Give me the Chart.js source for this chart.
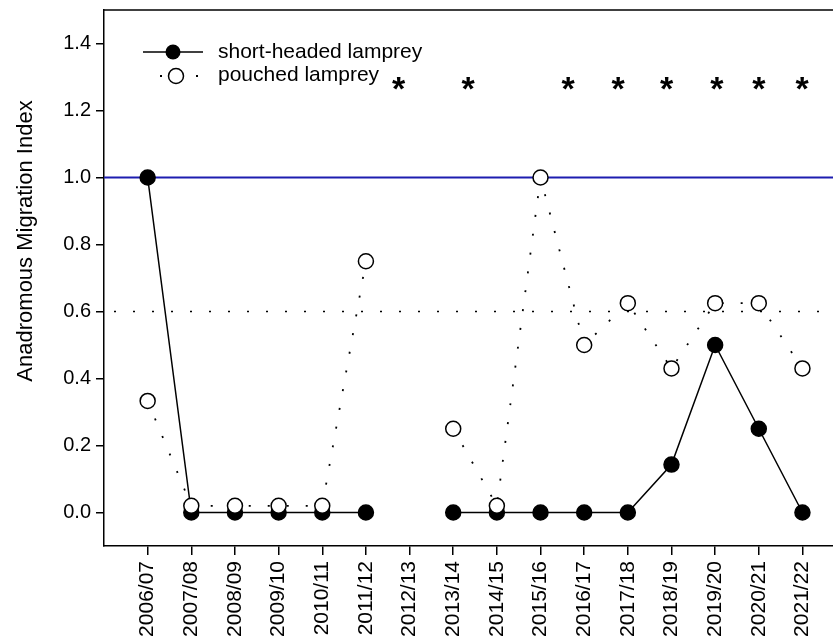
<!DOCTYPE html>
<html>
<head>
<meta charset="utf-8">
<script src="https://cdn.jsdelivr.net/npm/chart.js@4"></script>
<style>
  body { margin: 0; background: #fff; }
  #wrap { width: 833px; height: 638px; }
</style>
</head>
<body>
<div id="wrap"><canvas id="migration_chart" width="833" height="638"></canvas></div>
<script>
// season labels along the x axis
const seasons = ['2006/07', '2007/08', '2008/09', '2009/10', '2010/11', '2011/12', '2012/13', '2013/14',
                 '2014/15', '2015/16', '2016/17', '2017/18', '2018/19', '2019/20', '2020/21', '2021/22'];
// index values (null = no data that season)
const shortHeaded = [1.0, 0, 0, 0, 0, 0, null, 0, 0, 0, 0, 0, 0.143, 0.5, 0.25, 0];
const pouched = [0.333, 0.02, 0.02, 0.02, 0.02, 0.75, null, 0.25, 0.02, 1.0, 0.5, 0.625, 0.43, 0.625, 0.625, 0.43];
// asterisk markers (x in season index units) and their height
const starX = [5.75, 7.34, 9.63, 10.78, 11.89, 13.04, 14.0, 14.99];
const starY = 1.28;
// reference lines
const refSolid = 1.0;
const refDotted = 0.6;
const yTicks = [0, 0.2, 0.4, 0.6, 0.8, 1.0, 1.2, 1.4];

const FONT = 'Arial, "Liberation Sans", sans-serif';

function toPoints(arr) {
    return arr.map((v, i) => ({ x: i, y: v }));
}

// reference lines, frame, asterisks, legend and axis title
const extras = {
    id: 'extras',
    beforeDatasetsDraw(chart) {
        const ctx = chart.ctx, a = chart.chartArea, y = chart.scales.y;
        ctx.save();
        // blue line at 1.0
        ctx.strokeStyle = '#1d1db0';
        ctx.lineWidth = 2;
        ctx.beginPath();
        ctx.moveTo(a.left, y.getPixelForValue(refSolid));
        ctx.lineTo(a.right, y.getPixelForValue(refSolid));
        ctx.stroke();
        // dotted line at 0.6
        ctx.strokeStyle = '#000';
        ctx.lineWidth = 1.5;
        ctx.setLineDash([2, 17]);
        ctx.beginPath();
        ctx.moveTo(a.left + 10, y.getPixelForValue(refDotted));
        ctx.lineTo(a.right, y.getPixelForValue(refDotted));
        ctx.stroke();
        ctx.restore();
    },
    afterDraw(chart) {
        const ctx = chart.ctx, a = chart.chartArea, xs = chart.scales.x, ys = chart.scales.y;
        ctx.save();
        // top frame line
        ctx.strokeStyle = '#000';
        ctx.lineWidth = 1.5;
        ctx.beginPath();
        ctx.moveTo(a.left, a.top);
        ctx.lineTo(a.right, a.top);
        ctx.stroke();

        // asterisks
        ctx.fillStyle = '#000';
        ctx.font = 'bold 34px ' + FONT;
        ctx.textAlign = 'center';
        ctx.textBaseline = 'alphabetic';
        starX.forEach(sx => {
            ctx.fillText('*', xs.getPixelForValue(sx), ys.getPixelForValue(starY) + 16);
        });

        // legend
        ctx.lineWidth = 1.5;
        ctx.beginPath();
        ctx.moveTo(143, 52);
        ctx.lineTo(203, 52);
        ctx.stroke();
        ctx.beginPath();
        ctx.arc(173, 52, 7.5, 0, Math.PI * 2);
        ctx.fill();
        ctx.fillRect(160, 75, 2, 2);
        ctx.fillRect(196, 75, 2, 2);
        ctx.beginPath();
        ctx.arc(176, 76, 7.5, 0, Math.PI * 2);
        ctx.fillStyle = '#fff';
        ctx.fill();
        ctx.stroke();
        ctx.fillStyle = '#000';
        ctx.font = '21px ' + FONT;
        ctx.textAlign = 'left';
        ctx.textBaseline = 'middle';
        ctx.fillText('short-headed lamprey', 218, 52);
        ctx.fillText('pouched lamprey', 218, 75);

        // y axis title
        ctx.translate(26, 241);
        ctx.rotate(-Math.PI / 2);
        ctx.textAlign = 'center';
        ctx.font = '22px ' + FONT;
        ctx.fillText('Anadromous Migration Index', 0, 0);
        ctx.restore();
    }
};

var ctx = document.getElementById('migration_chart').getContext('2d');
var myChart = new Chart(ctx, {
    type: 'line',
    data: {
        datasets: [{
            label: 'pouched lamprey',
            data: toPoints(pouched),
            borderColor: '#000',
            borderWidth: 1.8,
            borderDash: [2, 17],
            backgroundColor: '#fff',
            pointBackgroundColor: '#fff',
            pointBorderColor: '#000',
            pointBorderWidth: 1.5,
            pointRadius: 7.5,
            spanGaps: false,
            order: 0
        }, {
            label: 'short-headed lamprey',
            data: toPoints(shortHeaded),
            borderColor: '#000',
            borderWidth: 1.5,
            backgroundColor: '#000',
            pointBackgroundColor: '#000',
            pointBorderColor: '#000',
            pointBorderWidth: 1.5,
            pointRadius: 7.5,
            spanGaps: false,
            order: 1
        }]
    },
    options: {
        responsive: false,
        animation: false,
        layout: { autoPadding: false, padding: { top: 10, right: 0, left: 0, bottom: 0 } },
        plugins: { legend: { display: false }, tooltip: { enabled: false } },
        scales: {
            x: {
                type: 'linear',
                min: -1,
                max: 15.7,
                afterBuildTicks: scale => { scale.ticks = seasons.map((s, i) => ({ value: i })); },
                afterFit: scale => {
                    scale.height = 92;
                    scale.paddingLeft = 0;
                    scale.paddingRight = 0;
                },
                ticks: {
                    autoSkip: false,
                    maxRotation: 90,
                    minRotation: 90,
                    padding: 6,
                    color: '#000',
                    font: { family: FONT, size: 21 },
                    callback: v => seasons[v]
                },
                grid: { drawOnChartArea: false, tickLength: 9, color: '#000', lineWidth: 1.5 },
                border: { color: '#000', width: 1.5 }
            },
            y: {
                min: -0.1,
                max: 1.5,
                afterBuildTicks: scale => { scale.ticks = yTicks.map(v => ({ value: v })); },
                afterFit: scale => {
                    scale.width = 104;
                    scale.paddingTop = 0;
                    scale.paddingBottom = 0;
                },
                ticks: {
                    padding: 5,
                    color: '#000',
                    font: { family: FONT, size: 20 },
                    callback: v => v.toFixed(1)
                },
                grid: { drawOnChartArea: false, tickLength: 8, color: '#000', lineWidth: 1.5 },
                border: { color: '#000', width: 1.5 }
            }
        }
    },
    plugins: [extras]
});
</script>
</body>
</html>
